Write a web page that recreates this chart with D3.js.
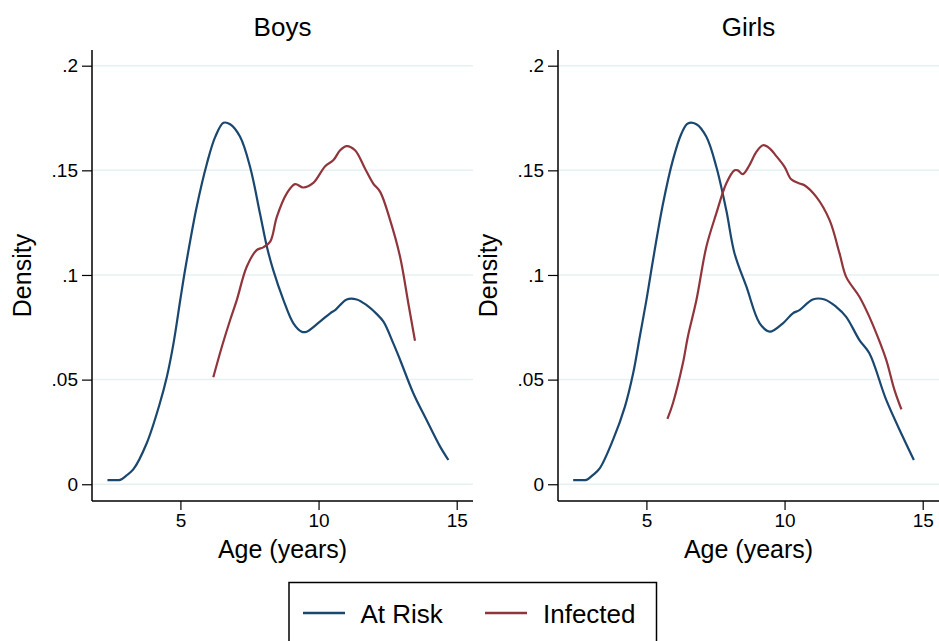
<!DOCTYPE html>
<html>
<head>
<meta charset="utf-8">
<script src="https://cdn.jsdelivr.net/npm/d3@7"></script>
<style>
  html, body { margin: 0; padding: 0; background: #fff; }
  svg { display: block; font-family: "Liberation Sans", Arial, Helvetica, sans-serif; }
  .tick-label { font-size: 19px; fill: #000; }
</style>
</head>
<body>
<div id="chart"></div>
<script>
const PANELS = ["Boys", "Girls"];
const SERIES = ["At Risk", "Infected"];
const SERIES_COLORS = ["#1a476f", "#90353b"];
const X_TICKS = [5, 10, 15];
const Y_TICKS = [0, 0.05, 0.1, 0.15, 0.2];
const Y_TICK_LABELS = ["0", ".05", ".1", ".15", ".2"];

// [age, density]
const boysAtRisk = [
  [2.36, 0.002], [2.6, 0.002], [2.82, 0.0021], [3.05, 0.0042], [3.3, 0.0072], [3.78, 0.0196],
  [4.24, 0.038], [4.51, 0.0514], [4.75, 0.0673], [5.0, 0.0885], [5.17, 0.1025], [5.59, 0.1326],
  [5.96, 0.1533], [6.26, 0.166], [6.56, 0.1727], [6.8, 0.172], [7.16, 0.166], [7.52, 0.1517],
  [7.88, 0.1294], [8.13, 0.1135], [8.36, 0.1023], [8.73, 0.088], [9.09, 0.0769], [9.39, 0.0729],
  [9.57, 0.0729], [10.05, 0.0777], [10.42, 0.0817], [10.6, 0.0832], [11.02, 0.0883], [11.38, 0.0883],
  [11.74, 0.0856], [12.11, 0.0813], [12.35, 0.0777], [12.71, 0.0672], [12.95, 0.0595], [13.43, 0.0435],
  [13.91, 0.0307], [14.4, 0.018], [14.7, 0.0116],
];
const boysInfected = [
  [6.19, 0.0511], [6.5, 0.0657], [6.8, 0.0785], [7.04, 0.088], [7.4, 0.1039], [7.76, 0.1119],
  [8.0, 0.1132], [8.25, 0.1159], [8.49, 0.1278], [8.85, 0.139], [9.15, 0.1434], [9.45, 0.1418],
  [9.81, 0.144], [10.24, 0.152], [10.54, 0.1549], [10.78, 0.1596], [11.02, 0.1616], [11.32, 0.1596],
  [11.68, 0.1509], [11.98, 0.1437], [12.23, 0.1397], [12.59, 0.1262], [12.95, 0.1087], [13.25, 0.0864],
  [13.49, 0.0686],
];
const girlsAtRisk = [
  [2.35, 0.002], [2.6, 0.002], [2.83, 0.0021], [3.06, 0.0044], [3.31, 0.0076], [3.79, 0.0212],
  [4.22, 0.037], [4.52, 0.053], [4.76, 0.0705], [5.0, 0.088], [5.18, 0.1025], [5.6, 0.134],
  [5.96, 0.155], [6.27, 0.1676], [6.5, 0.1724], [6.81, 0.172], [7.17, 0.166], [7.53, 0.1517],
  [7.89, 0.131], [8.19, 0.1103], [8.62, 0.0944], [9.1, 0.0769], [9.46, 0.0729], [9.94, 0.0769],
  [10.3, 0.0817], [10.54, 0.0832], [11.02, 0.0883], [11.45, 0.0883], [11.87, 0.0848], [12.23, 0.08],
  [12.71, 0.0689], [13.07, 0.0626], [13.68, 0.0403], [14.28, 0.0227], [14.68, 0.0116],
];
const girlsInfected = [
  [5.76, 0.0312], [5.96, 0.0387], [6.32, 0.0578], [6.5, 0.0705], [6.81, 0.088], [7.17, 0.1135],
  [7.53, 0.1294], [7.89, 0.1437], [8.19, 0.15], [8.31, 0.15], [8.49, 0.1482], [8.73, 0.1525],
  [8.98, 0.1588], [9.22, 0.162], [9.46, 0.1605], [9.7, 0.1568], [10.0, 0.1517], [10.24, 0.1457],
  [10.54, 0.1437], [10.72, 0.1429], [11.15, 0.1373], [11.63, 0.1262], [11.99, 0.1103], [12.23, 0.0991],
  [12.71, 0.0896], [13.07, 0.08], [13.37, 0.0705], [13.68, 0.0594], [13.98, 0.045], [14.23, 0.0358],
];

const PANEL_SERIES = [
  [boysAtRisk, boysInfected],
  [girlsAtRisk, girlsInfected],
];

const width = 939;
const height = 641;
const panelLefts = [92, 558];
const panelWidth = 381;
const plotTop = 50;
const plotBottom = 501;

const svg = d3.select("#chart").append("svg").attr("width", width).attr("height", height);

function renderPanel(index) {
  const left = panelLefts[index];
  const right = left + panelWidth;
  const x = d3.scaleLinear().domain([1.8, 15.59]).range([left, right]);
  const y = d3.scaleLinear().domain([-0.008, 0.2075]).range([plotBottom, plotTop]);
  const g = svg.append("g");

  // grid
  g.append("g")
    .selectAll("line")
    .data(Y_TICKS)
    .join("line")
    .attr("x1", left + 1)
    .attr("x2", right)
    .attr("y1", (d) => y(d))
    .attr("y2", (d) => y(d))
    .attr("stroke", "#e6f0f2")
    .attr("stroke-width", 1.5);

  // y axis
  g.append("g")
    .attr("transform", `translate(${left}, 0)`)
    .call(d3.axisLeft(y).tickValues(Y_TICKS).tickSize(10).tickPadding(4).tickFormat((d, i) => Y_TICK_LABELS[i]))
    .call((axis) => axis.select(".domain").attr("d", `M0,${plotTop}V${plotBottom}`).attr("stroke", "#000").attr("stroke-width", 1.5))
    .call((axis) => axis.selectAll("line").attr("stroke", "#000").attr("stroke-width", 1.2))
    .call((axis) => axis.selectAll("text").attr("class", "tick-label").attr("font-family", null).attr("font-size", null).attr("fill", "#000"));

  // x axis
  g.append("g")
    .attr("transform", `translate(0, ${plotBottom})`)
    .call(d3.axisBottom(x).tickValues(X_TICKS).tickSize(9).tickPadding(4))
    .call((axis) => axis.select(".domain").attr("d", `M${left},0H${right}`).attr("stroke", "#000").attr("stroke-width", 1.5))
    .call((axis) => axis.selectAll("line").attr("stroke", "#000").attr("stroke-width", 1.2))
    .call((axis) => axis.selectAll("text").attr("class", "tick-label").attr("font-family", null).attr("font-size", null).attr("fill", "#000"));

  // curves
  const line = d3.line().x((d) => x(d[0])).y((d) => y(d[1])).curve(d3.curveCatmullRom.alpha(0.5));
  g.append("g")
    .selectAll("path")
    .data(PANEL_SERIES[index])
    .join("path")
    .attr("d", line)
    .attr("fill", "none")
    .attr("stroke", (d, i) => SERIES_COLORS[i])
    .attr("stroke-width", 2.2)
    .attr("stroke-linejoin", "round");

  // titles
  g.append("text")
    .attr("x", (left + right) / 2)
    .attr("y", 35.5)
    .attr("text-anchor", "middle")
    .attr("font-size", 26)
    .text(PANELS[index]);

  g.append("text")
    .attr("x", (left + right) / 2)
    .attr("y", 558)
    .attr("text-anchor", "middle")
    .attr("font-size", 25)
    .text("Age (years)");

  g.append("text")
    .attr("transform", `translate(${left - 61}, ${(plotTop + plotBottom) / 2}) rotate(-90)`)
    .attr("text-anchor", "middle")
    .attr("font-size", 25)
    .text("Density");
}

PANELS.forEach((_, i) => renderPanel(i));

// legend
const legend = svg.append("g");
legend.append("rect")
  .attr("x", 289)
  .attr("y", 582.5)
  .attr("width", 367.5)
  .attr("height", 80)
  .attr("fill", "#fff")
  .attr("stroke", "#000")
  .attr("stroke-width", 1.5);

const legendItems = [
  { x: 303, textX: 360.5 },
  { x: 485, textX: 543 },
];
legend.selectAll("g")
  .data(SERIES)
  .join("g")
  .each(function (name, i) {
    const item = d3.select(this);
    item.append("line")
      .attr("x1", legendItems[i].x)
      .attr("x2", legendItems[i].x + 42)
      .attr("y1", 613)
      .attr("y2", 613)
      .attr("stroke", SERIES_COLORS[i])
      .attr("stroke-width", 2.7);
    item.append("text")
      .attr("x", legendItems[i].textX)
      .attr("y", 623)
      .attr("font-size", 26)
      .text(name);
  });
</script>
</body>
</html>
